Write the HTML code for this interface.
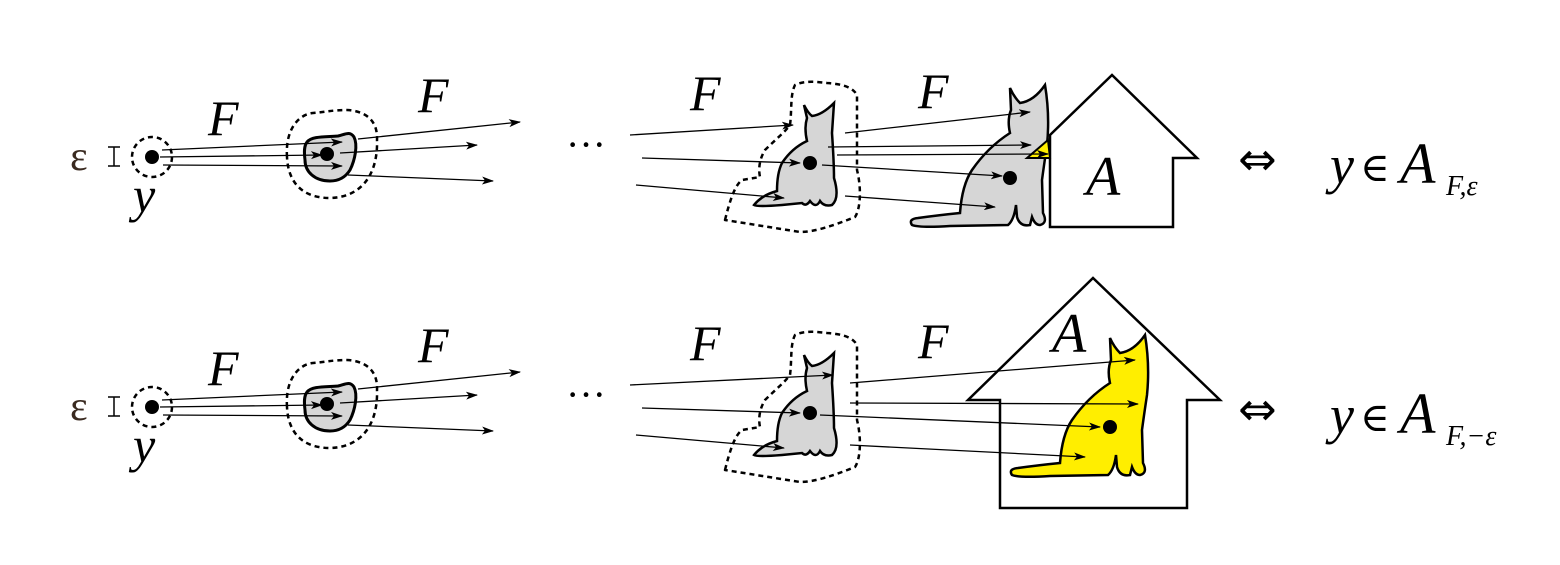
<!DOCTYPE html>
<html><head><meta charset="utf-8"><style>
html,body{margin:0;padding:0;background:#fff;}
svg{display:block;}
.m{font-family:'Liberation Serif','DejaVu Serif',serif;font-style:italic;}
.r{font-family:'Liberation Serif','DejaVu Serif',serif;}
</style></head><body>
<svg width="1560" height="565" viewBox="0 0 1560 565" xmlns="http://www.w3.org/2000/svg">
<defs>
<marker id="ah" markerWidth="12" markerHeight="8" refX="11" refY="4" orient="auto" markerUnits="userSpaceOnUse">
<path d="M0,0 L12,4 L0,8 L3,4 Z" fill="#000"/>
</marker>
<path id="bigcat" d="M 100,3 Q 104,12 110,18 Q 124,16 135,0 Q 140,30 137,60 Q 134,80 132,95 L 133,128 Q 138,138 130,140 Q 125,140 122,132 L 120,140 Q 110,142 107,132 L 106,120 Q 104,135 98,140 L 40,141 Q 10,143 2,140 Q -2,134 8,133 Q 30,130 50,128 Q 52,100 62,85 Q 78,62 100,48 Q 97,35 101,25 Z"/>
<path id="smallcat" d="M 52,2 Q 56,10 60,13 Q 70,12 82,0 Q 81,15 80,30 Q 82,60 82,75 Q 88,95 80,102 Q 72,104 68,98 Q 64,106 58,98 Q 54,104 50,100 L 30,102 Q 5,104 2,102 Q 10,92 25,88 Q 25,70 30,60 Q 40,45 55,38 Q 52,25 55,15 Z"/>
<g id="left">
<text x="70" y="170" class="r" font-size="42" fill="#3a2a20">ε</text>
<path d="M108,147 H120 M114,147 V166 M108,166 H120" stroke="#000" stroke-width="1.5" fill="none"/>
<circle cx="152" cy="157" r="20" fill="none" stroke="#000" stroke-width="2.5" stroke-dasharray="5,4"/>
<circle cx="152" cy="157" r="7" fill="#000"/>
<text x="133" y="212" class="m" font-size="50">y</text>
<text x="208" y="135" class="m" font-size="50">F</text>
<text x="418" y="112" class="m" font-size="50">F</text>
<path d="M287,157 C285,128 300,114 313,113 C325,112 333,110 347,110 C365,111 378,120 377,140 C378,170 365,197 330,198 C300,198 288,180 287,157 Z" fill="none" stroke="#000" stroke-width="2.5" stroke-dasharray="5,4"/>
<path d="M307,142 C312,136 325,137 338,136 C346,134 350,131 354,137 C358,145 355,160 350,170 C345,178 338,181 330,181 C315,181 305,172 305,160 C304,152 304,146 307,142 Z" fill="#d6d6d6" stroke="#000" stroke-width="3"/>
<circle cx="327" cy="154" r="7" fill="#000"/>
<g stroke="#000" stroke-width="1.3" fill="none" marker-end="url(#ah)">
<line x1="162" y1="150" x2="342" y2="142"/>
<line x1="160" y1="157" x2="322" y2="155"/>
<line x1="163" y1="165" x2="342" y2="166"/>
<line x1="358" y1="139" x2="520" y2="122"/>
<line x1="340" y1="153" x2="477" y2="145"/>
<line x1="348" y1="175" x2="493" y2="181"/>
</g>
<text x="566" y="158" class="r" font-size="40">···</text>
</g>
</defs>

<use href="#left"/>
<text x="690" y="110" class="m" font-size="50">F</text>
<text x="918" y="108" class="m" font-size="50">F</text>
<path d="M725,220 C730,200 735,185 742,180 L760,177 C758,168 760,158 765,150 C775,140 785,132 790,125 C792,110 790,95 795,85 C805,80 818,82 827,83 C840,84 852,86 857,95 L857,170 C862,190 860,210 855,217 C835,225 815,232 800,232 Z" fill="none" stroke="#000" stroke-width="2.5" stroke-dasharray="5,4" stroke-linejoin="round"/>
<use href="#smallcat" transform="translate(752,103)" fill="#d6d6d6" stroke="#000" stroke-width="2.5"/>
<circle cx="810" cy="163" r="7" fill="#000"/>
<use href="#bigcat" transform="translate(910,85)" fill="#d6d6d6" stroke="#000" stroke-width="2.5"/>
<circle cx="1010" cy="178" r="7" fill="#000"/>
<path d="M1050,227 V135 L1112,75 L1197,158 H1173 V227 Z" fill="#fff" stroke="#000" stroke-width="2.5"/>
<path d="M1027,158 L1048,140 L1050,158 Z" fill="#ffee00" stroke="#000" stroke-width="2"/>
<text x="1086" y="195" class="m" font-size="56">A</text>
<g stroke="#000" stroke-width="1.3" fill="none" marker-end="url(#ah)">
<line x1="630" y1="135" x2="793" y2="125"/>
<line x1="642" y1="158" x2="800" y2="163"/>
<line x1="636" y1="185" x2="784" y2="198"/>
<line x1="845" y1="133" x2="1030" y2="112"/>
<line x1="828" y1="147" x2="1031" y2="145"/>
<line x1="837" y1="155" x2="1048" y2="154"/>
<line x1="822" y1="165" x2="1002" y2="176"/>
<line x1="845" y1="196" x2="995" y2="207"/>
</g>
<text x="1238" y="175" font-family="DejaVu Sans,sans-serif" font-size="46">⇔</text>
<text x="1330" y="183" class="m" font-size="54">y</text>
<text x="1360" y="181" font-family="DejaVu Serif,serif" font-size="40">∈</text>
<text x="1400" y="183" class="m" font-size="58">A</text>
<text x="1446" y="195" class="m" font-size="28">F,ε</text>

<use href="#left" transform="translate(0,250)"/>
<text x="690" y="360" class="m" font-size="50">F</text>
<text x="918" y="358" class="m" font-size="50">F</text>
<path d="M725,470 C730,450 735,435 742,430 L760,427 C758,418 760,408 765,400 C775,390 785,382 790,375 C792,360 790,345 795,335 C805,330 818,332 827,333 C840,334 852,336 857,345 L857,420 C862,440 860,460 855,467 C835,475 815,482 800,482 Z" fill="none" stroke="#000" stroke-width="2.5" stroke-dasharray="5,4" stroke-linejoin="round"/>
<use href="#smallcat" transform="translate(752,353)" fill="#d6d6d6" stroke="#000" stroke-width="2.5"/>
<circle cx="810" cy="413" r="7" fill="#000"/>
<path d="M1000,508 V400 H968 L1093,278 L1220,400 H1187 V508 Z" fill="#fff" stroke="#000" stroke-width="2.5"/>
<text x="1052" y="352" class="m" font-size="56">A</text>
<use href="#bigcat" transform="translate(1010,335)" fill="#ffee00" stroke="#000" stroke-width="2.5"/>
<circle cx="1110" cy="427" r="7" fill="#000"/>
<g stroke="#000" stroke-width="1.3" fill="none" marker-end="url(#ah)">
<line x1="630" y1="385" x2="833" y2="375"/>
<line x1="642" y1="408" x2="800" y2="413"/>
<line x1="636" y1="435" x2="784" y2="448"/>
<line x1="850" y1="383" x2="1135" y2="360"/>
<line x1="850" y1="403" x2="1138" y2="404"/>
<line x1="820" y1="415" x2="1100" y2="427"/>
<line x1="850" y1="445" x2="1085" y2="457"/>
</g>
<text x="1238" y="425" font-family="DejaVu Sans,sans-serif" font-size="46">⇔</text>
<text x="1330" y="433" class="m" font-size="54">y</text>
<text x="1360" y="431" font-family="DejaVu Serif,serif" font-size="40">∈</text>
<text x="1400" y="433" class="m" font-size="58">A</text>
<text x="1446" y="445" class="m" font-size="28">F,−ε</text>
</svg>
</body></html>
